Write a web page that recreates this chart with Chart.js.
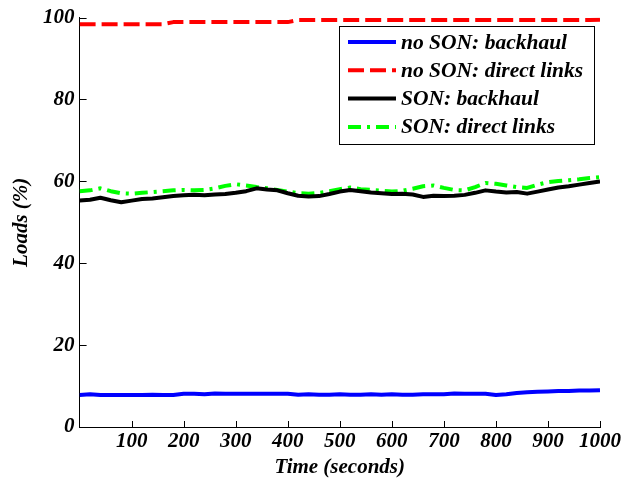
<!DOCTYPE html>
<html>
<head>
<meta charset="utf-8">
<script src="https://cdn.jsdelivr.net/npm/chart.js@4/dist/chart.umd.min.js"></script>
<style>
  html, body { margin: 0; padding: 0; background: #fff; }
  #wrap { width: 623px; height: 481px; }
</style>
</head>
<body>
<div id="wrap"><canvas id="loads-chart" width="623" height="481"></canvas></div>
<script>
  // time axis, seconds (every 20 s)
  const times = [0, 20, 40, 60, 80, 100, 120, 140, 160, 180, 200, 220, 240, 260, 280, 300, 320, 340, 360, 380,
    400, 420, 440, 460, 480, 500, 520, 540, 560, 580, 600, 620, 640, 660, 680, 700, 720, 740, 760, 780,
    800, 820, 840, 860, 880, 900, 920, 940, 960, 980, 1000];

  const noSonBackhaul = [7.8, 8.0, 7.8, 7.8, 7.8, 7.8, 7.8, 7.9, 7.8, 7.8, 8.1, 8.1, 8.0, 8.2, 8.1, 8.1, 8.1, 8.1, 8.1, 8.1,
    8.1, 7.9, 8.0, 7.9, 7.9, 8.0, 7.9, 7.9, 8.0, 7.9, 8.0, 7.9, 7.9, 8.0, 8.0, 8.0, 8.2, 8.1, 8.1, 8.1,
    7.8, 8.0, 8.3, 8.5, 8.6, 8.7, 8.8, 8.8, 8.9, 8.9, 9.0];
  const noSonDirect = [98.4, 98.4, 98.4, 98.4, 98.4, 98.4, 98.4, 98.4, 98.4, 98.9, 98.9, 98.9, 98.9, 98.9, 98.9, 98.9, 98.9, 98.9, 98.9, 98.9,
    98.9, 99.4, 99.4, 99.4, 99.4, 99.4, 99.4, 99.4, 99.4, 99.4, 99.4, 99.4, 99.4, 99.4, 99.4, 99.4, 99.4, 99.4, 99.4, 99.4,
    99.4, 99.4, 99.4, 99.4, 99.4, 99.4, 99.4, 99.4, 99.4, 99.4, 99.5];
  const sonBackhaul = [55.3, 55.5, 56.0, 55.4, 54.9, 55.3, 55.7, 55.8, 56.1, 56.4, 56.6, 56.7, 56.6, 56.8, 56.9, 57.2, 57.6, 58.3, 58.0, 57.8,
    57.1, 56.5, 56.3, 56.4, 56.9, 57.5, 57.9, 57.6, 57.3, 57.1, 56.9, 57.0, 56.8, 56.2, 56.5, 56.4, 56.5, 56.7, 57.2, 57.8,
    57.5, 57.3, 57.4, 57.0, 57.5, 58.0, 58.5, 58.8, 59.2, 59.6, 60.0];
  const sonDirect = [57.6, 57.8, 58.3, 57.6, 57.1, 57.0, 57.2, 57.4, 57.6, 57.8, 57.9, 57.8, 57.9, 58.3, 58.9, 59.3, 59.0, 58.6, 58.3, 57.9,
    57.5, 57.1, 57.0, 57.2, 57.6, 58.1, 58.5, 58.1, 57.9, 57.7, 57.5, 57.7, 58.2, 58.8, 59.0, 58.4, 57.9, 57.8, 58.6, 59.6,
    59.4, 59.0, 58.6, 58.4, 59.2, 59.8, 60.1, 60.3, 60.5, 60.8, 61.0];

  const yTicks = [0, 20, 40, 60, 80, 100];
  const xTicks = [100, 200, 300, 400, 500, 600, 700, 800, 900, 1000];

  const serifBold = { family: "'Liberation Serif', 'Times New Roman', serif", size: 21, weight: 'bold', style: 'italic' };

  function pts(values) {
    return times.map(function (t, i) { return { x: t, y: values[i] }; });
  }

  // small ticks pointing into the plot, like MATLAB
  const innerTicks = {
    id: 'innerTicks',
    afterDraw: function (chart) {
      const c = chart.ctx;
      const area = chart.chartArea;
      const xs = chart.scales.x;
      const ys = chart.scales.y;
      c.save();
      c.strokeStyle = '#000';
      c.lineWidth = 1;
      c.beginPath();
      xTicks.forEach(function (v) {
        const px = Math.round(xs.getPixelForValue(v)) + 0.5;
        c.moveTo(px, area.bottom);
        c.lineTo(px, area.bottom - 6);
      });
      yTicks.forEach(function (v) {
        const py = Math.round(ys.getPixelForValue(v)) + 0.5;
        c.moveTo(area.left, py);
        c.lineTo(area.left + 7, py);
      });
      c.stroke();
      c.restore();
    }
  };

  // legend box drawn inside the plot, top right
  const boxLegend = {
    id: 'boxLegend',
    afterDraw: function (chart) {
      const c = chart.ctx;
      const x0 = 339, y0 = 26, w = 255, h = 118;
      c.save();
      c.fillStyle = '#fff';
      c.fillRect(x0, y0, w, h);
      c.strokeStyle = '#000';
      c.lineWidth = 1;
      c.strokeRect(x0 + 0.5, y0 + 0.5, w, h);
      c.font = 'italic bold 21.5px "Liberation Serif", "Times New Roman", serif';
      c.textBaseline = 'middle';
      chart.data.datasets.forEach(function (ds, i) {
        const yy = y0 + 16 + i * 28.3;
        c.beginPath();
        c.strokeStyle = ds.borderColor;
        c.lineWidth = ds.borderWidth;
        c.setLineDash(ds.borderDash || []);
        c.moveTo(x0 + 9, yy);
        c.lineTo(x0 + 57, yy);
        c.stroke();
        c.setLineDash([]);
        c.fillStyle = '#000';
        c.fillText(ds.label, x0 + 62, yy + 1);
      });
      c.restore();
    }
  };

  const ctx = document.getElementById('loads-chart');

  new Chart(ctx, {
    type: 'line',
    data: {
      datasets: [
        {
          label: 'no SON: backhaul',
          data: pts(noSonBackhaul),
          borderColor: '#0000ff',
          borderWidth: 4
        },
        {
          label: 'no SON: direct links',
          data: pts(noSonDirect),
          borderColor: '#ff0000',
          borderWidth: 4,
          borderDash: [16, 6]
        },
        {
          label: 'SON: backhaul',
          data: pts(sonBackhaul),
          borderColor: '#000000',
          borderWidth: 4
        },
        {
          label: 'SON: direct links',
          data: pts(sonDirect),
          borderColor: '#00ff00',
          borderWidth: 4,
          borderDash: [13, 6, 3, 6]
        }
      ]
    },
    options: {
      responsive: false,
      animation: false,
      elements: {
        point: { radius: 0 },
        line: { tension: 0, borderCapStyle: 'butt', borderJoinStyle: 'round' }
      },
      layout: {
        padding: { left: 0, top: 16, right: 22, bottom: 0 }
      },
      scales: {
        x: {
          type: 'linear',
          min: 0,
          max: 1000,
          afterFit: function (scale) { scale.height = 54; },
          afterBuildTicks: function (scale) {
            scale.ticks = xTicks.map(function (v) { return { value: v }; });
          },
          grid: { display: false, drawTicks: false },
          border: { display: true, color: '#000', width: 1 },
          ticks: {
            color: '#000',
            font: serifBold,
            padding: 2,
            maxRotation: 0,
            autoSkip: false,
            callback: function (v) { return String(v); }
          },
          title: {
            display: true,
            text: 'Time (seconds)',
            color: '#000',
            font: serifBold,
            padding: { top: 0, bottom: 1 }
          }
        },
        y: {
          min: 0,
          max: 100,
          afterFit: function (scale) { scale.width = 79.6; },
          afterBuildTicks: function (scale) {
            scale.ticks = yTicks.map(function (v) { return { value: v }; });
          },
          grid: { display: false, drawTicks: false },
          border: { display: true, color: '#000', width: 1 },
          ticks: {
            color: '#000',
            font: serifBold,
            padding: 5,
            callback: function (v) { return String(v); }
          },
          title: {
            display: true,
            text: 'Loads (%)',
            color: '#000',
            font: serifBold,
            padding: { top: 9, bottom: 0 }
          }
        }
      },
      plugins: {
        legend: { display: false },
        tooltip: { enabled: false }
      }
    },
    plugins: [innerTicks, boxLegend]
  });
</script>
</body>
</html>
